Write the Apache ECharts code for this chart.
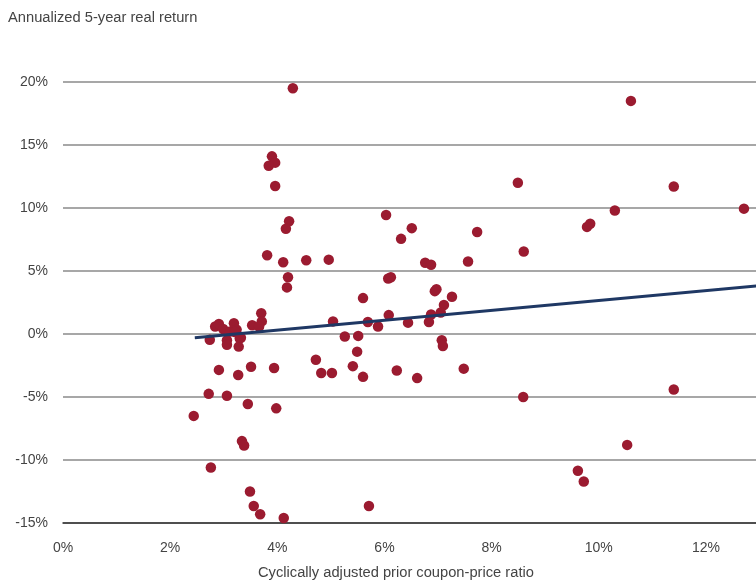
<!DOCTYPE html>
<html>
<head>
<meta charset="utf-8">
<script src="https://cdn.jsdelivr.net/npm/echarts@6/dist/echarts.min.js"></script>
<style>html,body{margin:0;padding:0;background:#fff}#c{width:756px;height:580px}</style>
</head>
<body>
<div id="c"></div>
<script>
const xTicks = [0, 2, 4, 6, 8, 10, 12];
const yTicks = [-15, -10, -5, 0, 5, 10, 15, 20];
const ratio = [4.29,10.60,3.90,3.96,3.84,3.96,8.49,11.40,12.71,10.30,9.84,9.78,4.22,4.16,6.03,6.51,6.31,7.73,8.60,3.81,4.11,4.54,4.96,6.76,6.87,7.56,4.20,4.18,6.07,6.12,6.94,6.97,7.26,7.11,7.05,6.87,6.83,6.44,6.08,5.88,5.69,5.60,5.04,5.26,5.51,5.49,5.02,5.41,5.60,6.23,6.61,7.07,7.09,7.48,8.59,4.72,4.82,3.94,3.51,3.27,2.91,2.72,3.06,3.45,3.98,2.44,3.34,3.38,2.76,3.49,3.56,3.68,4.12,5.71,11.40,10.53,9.61,9.72,3.70,3.71,3.53,3.66,2.84,2.91,2.99,3.12,3.19,3.24,2.74,3.06,3.30,3.06,3.28,3.32,3.21];
const realReturn = [19.5,18.5,14.1,13.6,13.35,11.75,12.0,11.7,9.95,9.8,8.75,8.5,8.95,8.35,9.45,8.4,7.55,8.1,6.55,6.25,5.7,5.85,5.9,5.65,5.5,5.75,4.5,3.7,4.4,4.5,3.4,3.55,2.95,2.3,1.7,1.55,0.95,0.9,1.5,0.6,0.95,2.85,1.0,-0.2,-0.15,-1.4,-3.1,-2.55,-3.4,-2.9,-3.5,-0.5,-0.95,-2.75,-5.0,-2.05,-3.1,-2.7,-2.6,-3.25,-2.85,-4.75,-4.9,-5.55,-5.9,-6.5,-8.5,-8.85,-10.6,-12.5,-13.65,-14.3,-14.6,-13.65,-4.4,-8.8,-10.85,-11.7,1.65,1.0,0.7,0.6,0.6,0.8,0.4,0.2,0.85,0.35,-0.45,-0.5,-0.35,-0.85,-1.0,-0.3,0.15];
const trendX = [2.46, 13];
const trendY = [-0.3, 3.83];

const chart = echarts.init(document.getElementById('c'));
const font = 'Liberation Sans, Arial, sans-serif';
chart.setOption({
  animation: false,
  grid: { left: 63, width: 696.5, top: 82, bottom: 57, containLabel: false, outerBoundsMode: 'none' },
  xAxis: {
    type: 'value', min: 0, max: 13, interval: 2,
    axisLine: { show: true, onZero: false, lineStyle: { color: '#333', width: 1.5 } },
    axisTick: { show: false },
    splitLine: { show: false },
    axisLabel: {
      margin: 18, fontSize: 14, color: '#444', fontFamily: font,
      formatter: v => xTicks.indexOf(v) >= 0 ? v + '%' : ''
    }
  },
  yAxis: {
    type: 'value', min: yTicks[0], max: yTicks[yTicks.length - 1], interval: 5,
    axisLine: { show: false }, axisTick: { show: false },
    splitLine: { show: true, lineStyle: { color: '#8a8a8a', width: 1.5 } },
    axisLabel: { margin: 15, fontSize: 14, color: '#444', fontFamily: font, formatter: v => v + '%' }
  },
  graphic: [
    { type: 'text', left: 8, top: 10, style: { text: 'Annualized 5-year real return', fontSize: 14.7, fill: '#444', fontFamily: font } },
    { type: 'text', left: 258, top: 565, style: { text: 'Cyclically adjusted prior coupon-price ratio', fontSize: 14.7, fill: '#444', fontFamily: font } }
  ],
  series: [
    {
      type: 'scatter', symbolSize: 10.5, z: 2,
      itemStyle: { color: '#9b1b30', opacity: 1 },
      data: ratio.map((x, i) => [x, realReturn[i]])
    },
    {
      type: 'line', symbol: 'none', z: 3,
      lineStyle: { color: '#1f3864', width: 3 },
      data: trendX.map((x, i) => [x, trendY[i]])
    }
  ]
});
</script>
</body>
</html>
